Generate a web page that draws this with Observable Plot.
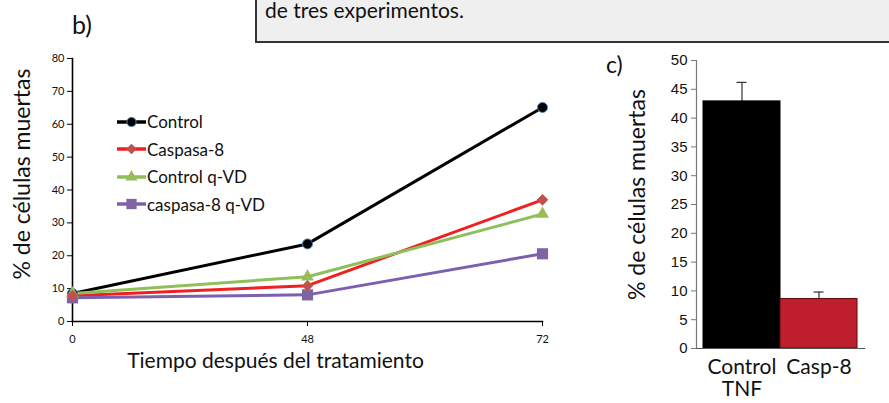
<!DOCTYPE html>
<html>
<head>
<meta charset="utf-8">
<script src="https://cdn.jsdelivr.net/npm/d3@7"></script>
<script src="https://cdn.jsdelivr.net/npm/@observablehq/plot@0.6"></script>
<style>
  html, body { margin: 0; padding: 0; background: #fff; }
  #page { position: relative; width: 889px; height: 403px; overflow: hidden; font-family: Lato, "Noto Sans", sans-serif; color: #111; }
  .abs { position: absolute; }
  #box { left: 255px; top: -40px; width: 700px; height: 79px; background: #efefef; border: 2px solid #333; box-sizing: content-box; }
  #boxtext { left: 265px; top: -3px; font-size: 21px; }
  #lb { left: 72px; top: 9px; font-size: 25px; }
  #lc { left: 606px; top: 50px; font-size: 23px; }
  #legend { left: 117px; top: 108px; font-size: 17px; }
  .row { display: flex; align-items: center; height: 27.5px; }
  .row svg { margin-right: 1px; }
</style>
</head>
<body>
<div id="page">
  <div id="line" class="abs" style="left:0;top:45px"></div>
  <div id="bar" class="abs" style="left:620px;top:45px"></div>
  <div id="box" class="abs"></div>
  <div id="boxtext" class="abs">de tres experimentos.</div>
  <div id="lb" class="abs">b)</div>
  <div id="lc" class="abs">c)</div>
  <div id="legend" class="abs"></div>
</div>
<script>
// ---- data: panel b ----
const times = ["0", "48", "72"];
const seriesNames = ["Control", "Caspasa-8", "Control q-VD", "caspasa-8 q-VD"];
const control = [8.5, 23.6, 65.1];
const caspasa8 = [7.8, 10.9, 37.0];
const controlQVD = [8.5, 13.6, 32.7];
const caspasa8QVD = [7.2, 8.1, 20.6];
const yTicksB = [0, 10, 20, 30, 40, 50, 60, 70, 80];

// ---- data: panel c ----
const barCats = ["Control", "Casp-8"];
const barVals = [42.9, 8.6];
const barErrs = [3.3, 1.2];
const yTicksC = [0, 5, 10, 15, 20, 25, 30, 35, 40, 45, 50];

// ---- styles ----
const squareDiamond = {
  draw(ctx, size) {
    const h = Math.sqrt(size / 2);
    ctx.moveTo(0, -h); ctx.lineTo(h, 0); ctx.lineTo(0, h); ctx.lineTo(-h, 0); ctx.closePath();
  }
};
const lineColors = ["#000000", "#f02020", "#8dc05a", "#7b60b0"];
const markFill = ["#000000", "#c0504d", "#9bbb59", "#8064a2"];
const markStroke = ["#4f81bd", "none", "none", "none"];
const markSymbols = [d3.symbolCircle, squareDiamond, d3.symbolTriangle, d3.symbolSquare];
const markR = [5, 4.6, 4.8, 6.3];
const barFill = ["#000000", "#be1e2d"];
const barStroke = ["#000000", "#5a0a0a"];

const allSeries = [control, caspasa8, controlQVD, caspasa8QVD];
const rows = [];
seriesNames.forEach((s, i) => times.forEach((t, j) => rows.push({series: s, si: i, time: t, value: allSeries[i][j]})));

const lineChart = Plot.plot({
  width: 580, height: 358,
  marginLeft: 72, marginRight: 38, marginTop: 13, marginBottom: 82,
  style: {fontFamily: "Lato, sans-serif", color: "#111", background: "transparent", overflow: "visible"},
  x: {type: "point", domain: times, padding: 0},
  y: {domain: [0, 80]},
  r: {type: "identity"},
  color: {type: "identity"},
  symbol: {domain: seriesNames, range: markSymbols},
  marks: [
    Plot.frame({anchor: "left", stroke: "#000", strokeWidth: 1.6}),
    Plot.frame({anchor: "bottom", stroke: "#000", strokeWidth: 1.6}),
    Plot.axisY({ticks: yTicksB, tickSize: 5, tickPadding: 3, fontSize: 11, label: null, stroke: "#000"}),
    Plot.axisX({tickSize: 5, tickPadding: 9, fontSize: 11, label: null, stroke: "#000"}),
    Plot.line(rows, {x: "time", y: "value", z: "series", stroke: d => lineColors[d.si], strokeWidth: 3}),
    Plot.dot(rows, {x: "time", y: "value", symbol: "series", fill: d => markFill[d.si], stroke: d => markStroke[d.si], strokeWidth: 1, r: d => markR[d.si]}),
    Plot.text(["Tiempo después del tratamiento"], {frameAnchor: "bottom", text: d => d, textAnchor: "middle", dx: -32, dy: 46, fontSize: 21, fill: "#111"}),
    Plot.text(["% de células muertas"], {frameAnchor: "left", text: d => d, textAnchor: "middle", rotate: -90, dx: -50, dy: -16, fontSize: 23, fill: "#111"})
  ]
});
document.getElementById("line").appendChild(lineChart);

// HTML legend
const leg = document.getElementById("legend");
seriesNames.forEach((s, i) => {
  const row = document.createElement("div");
  row.className = "row";
  const path = d3.symbol(markSymbols[i], Math.PI * markR[i] * markR[i] * 0.85)();
  row.innerHTML = `<svg width="29" height="16"><line x1="0" x2="29" y1="8" y2="8" stroke="${lineColors[i]}" stroke-width="3.5"/>` +
    `<path d="${path}" transform="translate(14.5,8)" fill="${markFill[i]}" stroke="${markStroke[i]}"/></svg>` +
    `<span>${s}</span>`;
  leg.appendChild(row);
});

// ---- panel c ----
const barRows = barCats.map((c, i) => ({cat: c, i, value: barVals[i], top: barVals[i] + barErrs[i]}));
const barChart = Plot.plot({
  width: 269, height: 358,
  marginLeft: 76, marginRight: 25, marginTop: 15, marginBottom: 55,
  style: {fontFamily: "Lato, sans-serif", color: "#111", background: "transparent", overflow: "visible"},
  x: {type: "band", domain: barCats, paddingInner: 0, paddingOuter: 0.09},
  y: {domain: [0, 50]},
  color: {type: "identity"},
  marks: [
    Plot.ruleX(barRows, {x: "cat", y1: "value", y2: "top", stroke: "#333", strokeWidth: 1.2}),
    Plot.tickY(barRows, {x: "cat", y: "top", stroke: "#333", strokeWidth: 1.2, insetLeft: 33.5, insetRight: 33.5}),
    Plot.barY(barRows, {x: "cat", y: "value", fill: d => barFill[d.i], stroke: d => barStroke[d.i], strokeWidth: 1}),
    Plot.frame({anchor: "left", stroke: "#777", strokeWidth: 1.2}),
    Plot.frame({anchor: "bottom", stroke: "#555", strokeWidth: 1.2}),
    Plot.axisY({ticks: yTicksC, tickSize: 5, tickPadding: 4, fontSize: 15, fontFamily: "Liberation Sans, Arial, sans-serif", label: null, stroke: "#777"}),
    Plot.axisX({tickSize: 0, tickPadding: 10, fontSize: 21, lineHeight: 1.05, label: null, tickFormat: d => d === "Control" ? "Control\nTNF" : d}),
    Plot.text(["% de células muertas"], {frameAnchor: "left", text: d => d, textAnchor: "middle", rotate: -90, dx: -59, dy: -10, fontSize: 23, fill: "#111"})
  ]
});
document.getElementById("bar").appendChild(barChart);
</script>
</body>
</html>
